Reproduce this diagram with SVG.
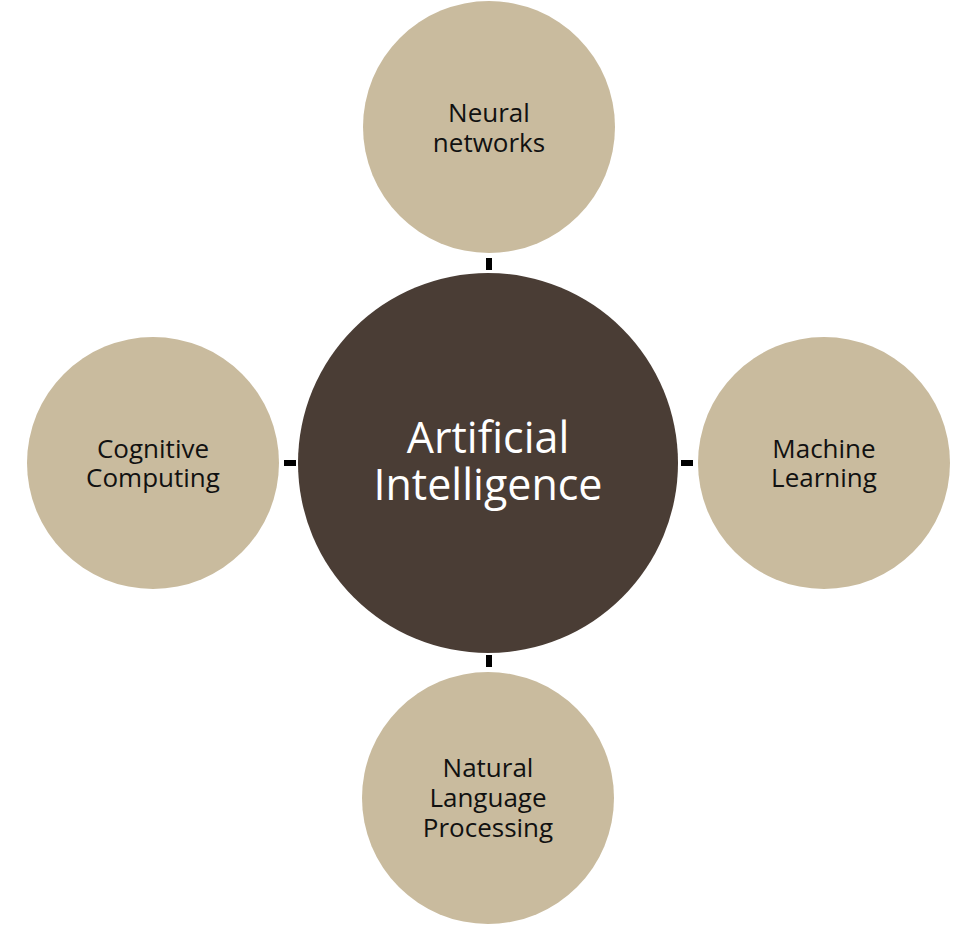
<svg xmlns="http://www.w3.org/2000/svg" width="980" height="932" viewBox="0 0 980 932">
<style>
.sat{fill:#C9BB9E;}
.core{fill:#4A3D35;}
.lbl{font-family:"Open Sans","Noto Sans",sans-serif;font-size:26px;fill:#111111;text-anchor:middle;}
.big{font-family:"Open Sans","Noto Sans",sans-serif;font-size:43px;fill:#FFFFFF;text-anchor:middle;}
.tick{fill:#000000;}
</style>
<rect width="980" height="932" fill="#FFFFFF"/>
<g id="connectors">
<rect class="tick" x="486" y="258" width="6" height="12"/>
<rect class="tick" x="486" y="655" width="6" height="12"/>
<rect class="tick" x="284" y="460" width="12" height="6"/>
<rect class="tick" x="681" y="460" width="12" height="6"/>
</g>
<g id="node-ai">
<circle class="core" cx="488" cy="463" r="190"/>
<text class="big" x="488" y="453">Artificial</text>
<text class="big" x="488" y="500">Intelligence</text>
</g>
<g id="node-neural">
<circle class="sat" cx="489" cy="127" r="126"/>
<text class="lbl" x="489" y="122">Neural</text>
<text class="lbl" x="489" y="152">networks</text>
</g>
<g id="node-cognitive">
<circle class="sat" cx="153" cy="463" r="126"/>
<text class="lbl" x="153" y="458">Cognitive</text>
<text class="lbl" x="153" y="487">Computing</text>
</g>
<g id="node-ml">
<circle class="sat" cx="824" cy="463" r="126"/>
<text class="lbl" x="824" y="458">Machine</text>
<text class="lbl" x="824" y="487">Learning</text>
</g>
<g id="node-nlp">
<circle class="sat" cx="488" cy="798" r="126"/>
<text class="lbl" x="488" y="777">Natural</text>
<text class="lbl" x="488" y="807">Language</text>
<text class="lbl" x="488" y="837">Processing</text>
</g>
</svg>
